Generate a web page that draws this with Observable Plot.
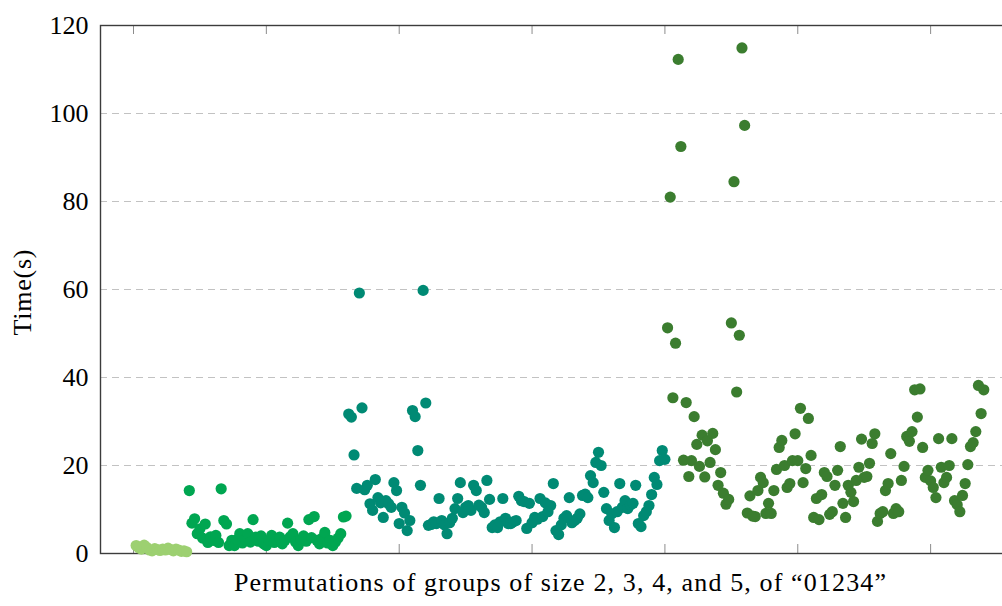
<!DOCTYPE html>
<html>
<head>
<meta charset="utf-8">
<script src="https://cdn.jsdelivr.net/npm/d3@7"></script>
<script src="https://cdn.jsdelivr.net/npm/@observablehq/plot@0.6"></script>
<style>
  body { margin: 0; background: #fff; }
  #chart svg { display: block; }
</style>
</head>
<body>
<div id="chart"></div>
<script>
// Run time (seconds) of each permutation, in order, for groups of size 2..5 drawn from "01234"
const timesSize2 = [1.8, 1.3, 1.0, 1.9, 1.4, 0.8, 0.6, 1.1, 0.9, 0.7, 1.0, 0.8, 1.2, 0.9, 0.6, 1.0, 0.8, 0.5, 0.6, 0.4];

const timesSize3 = [
  14.3, 6.9, 7.9, 4.5, 5.6, 3.5, 6.7, 2.5, 3.8, 3.0,
  4.1, 2.5, 14.7, 7.5, 6.7, 1.8, 3.0, 1.8, 3.2, 4.5,
  2.4, 3.3, 4.5, 2.6, 7.7, 3.7, 2.8, 4.0, 2.2, 1.8,
  3.0, 4.1, 2.5, 3.2, 3.7, 2.2, 3.0, 6.9, 3.8, 4.5,
  2.6, 1.8, 3.2, 4.0, 2.8, 7.7, 3.6, 8.4, 3.0, 2.2,
  3.5, 4.8, 2.4, 3.0, 1.8, 2.6, 3.5, 4.5, 8.3, 8.5
];

const timesSize4 = [
  31.7, 31.0, 22.4, 14.8, 59.2, 33.1, 14.5, 15.5, 11.3, 9.8,
  16.8, 12.7, 11.5, 8.2, 12.0, 11.3, 10.5, 16.1, 14.3, 6.8,
  10.5, 9.2, 5.2, 7.5, 32.5, 31.1, 23.4, 15.5, 59.8, 34.2,
  6.4, 6.6, 7.2, 6.8, 12.5, 7.5, 6.5, 4.5, 7.0, 8.0,
  10.2, 12.5, 16.1, 9.3, 10.5, 10.9, 9.8, 15.5, 14.3, 11.0,
  10.5, 9.3, 16.6, 12.3, 5.9, 6.5, 5.9, 7.2, 12.5, 8.0,
  6.8, 6.8, 7.2, 7.5, 13.0, 12.0, 11.8, 5.7, 11.4, 7.0,
  8.2, 7.8, 12.5, 8.4, 11.5, 9.5, 10.9, 15.9, 5.2, 4.3,
  6.5, 8.0, 8.6, 12.7, 7.0, 7.5, 8.0, 9.0, 13.2, 13.5,
  12.7, 17.7, 16.1, 20.7, 23.0, 20.0, 13.9, 10.2, 7.5, 9.0,
  5.9, 9.5, 15.9, 10.5, 12.0, 10.2, 11.0, 11.4, 15.5, 6.8,
  6.1, 8.6, 9.5, 10.9, 13.4, 17.3, 15.7, 21.1, 23.4, 21.4
];

const timesSize5 = [
  51.3, 81.0, 35.4, 47.8, 112.3, 92.5, 21.2, 34.3, 17.5, 21.1,
  31.1, 24.8, 19.8, 26.9, 17.4, 25.6, 20.7, 27.3, 23.6, 15.5,
  18.4, 13.7, 11.2, 12.3, 52.4, 84.5, 36.7, 49.6, 114.9, 97.3,
  9.2, 13.1, 8.5, 8.4, 14.3, 17.3, 16.1, 9.1, 11.4, 9.1,
  14.3, 19.1, 24.1, 25.7, 20.0, 15.0, 15.9, 21.1, 27.2, 21.1,
  33.0, 16.1, 19.3, 30.7, 22.3, 8.2, 12.5, 7.7, 13.4, 18.4,
  17.5, 8.9, 9.5, 15.5, 18.9, 24.3, 11.4, 8.2, 15.5, 13.9,
  11.8, 16.6, 19.6, 26.0, 17.3, 17.5, 20.5, 25.0, 27.2, 7.3,
  9.1, 9.5, 14.3, 15.9, 22.7, 9.1, 10.2, 9.5, 16.6, 19.8,
  26.6, 25.5, 27.7, 37.2, 31.0, 37.4, 24.1, 17.3, 18.9, 16.5,
  15.0, 12.7, 26.1, 19.6, 16.1, 17.3, 20.0, 26.1, 12.0, 11.1,
  9.5, 13.2, 15.9, 20.2, 24.3, 25.2, 27.7, 38.2, 31.8, 37.2
];

const groupNames = ["size 2", "size 3", "size 4", "size 5"];
const groupColors = ["#9dd071", "#00a651", "#008a74", "#3b7d2f"];

const xTicks = [0, 50, 100, 150, 200, 250, 300];
const yTicks = [0, 20, 40, 60, 80, 100, 120];
const gridTicks = [20, 40, 60, 80, 100];

const xLabel = "Permutations of groups of size 2, 3, 4, and 5, of “01234”";
const yLabel = "Time(s)";

// One row per permutation, numbered consecutively across the four groups
const rows = [];
[timesSize2, timesSize3, timesSize4, timesSize5].forEach((series, g) => {
  series.forEach(t => rows.push({x: rows.length + 1, time: t, group: groupNames[g]}));
});

const font = "'Liberation Serif', 'Times New Roman', serif";

const chart = Plot.plot({
  width: 1002,
  height: 606,
  marginLeft: 100,
  marginRight: -17,
  marginTop: 25,
  marginBottom: 53,
  style: {fontFamily: font, fontSize: "26px", color: "#000", background: "#fff"},
  x: {domain: [-12.42, 333.45], axis: null},
  y: {domain: [0, 120]},
  color: {domain: groupNames, range: groupColors},
  marks: [
    Plot.gridY(gridTicks, {stroke: "#c2c2c2", strokeOpacity: 1, strokeDasharray: "7,5"}),
    Plot.ruleX(xTicks, {insetTop: 519, stroke: "#8c8c8c"}),
    Plot.ruleX(xTicks, {insetBottom: 519, stroke: "#8c8c8c"}),
    Plot.frame({stroke: "#3c3c3c", strokeWidth: 1.4}),
    Plot.axisY({ticks: yTicks, tickSize: 0, tickPadding: 12, fontSize: 26, label: null}),
    Plot.text([yLabel], {frameAnchor: "left", textAnchor: "middle", dx: -78, dy: 3, rotate: -90, fontSize: 26}),
    Plot.text([xLabel], {frameAnchor: "bottom", dy: 37, fontSize: 26}),
    Plot.dot(rows, {x: "x", y: "time", fill: "group", r: 5.6})
  ]
});

// Widen the axis titles to the spacing of the original typeset figure
d3.select(chart).selectAll("text")
  .filter(function () { return this.textContent === xLabel; })
  .attr("textLength", 652).attr("lengthAdjust", "spacing");
d3.select(chart).selectAll("text")
  .filter(function () { return this.textContent === yLabel; })
  .attr("textLength", 86).attr("lengthAdjust", "spacing");

document.getElementById("chart").appendChild(chart);
</script>
</body>
</html>
